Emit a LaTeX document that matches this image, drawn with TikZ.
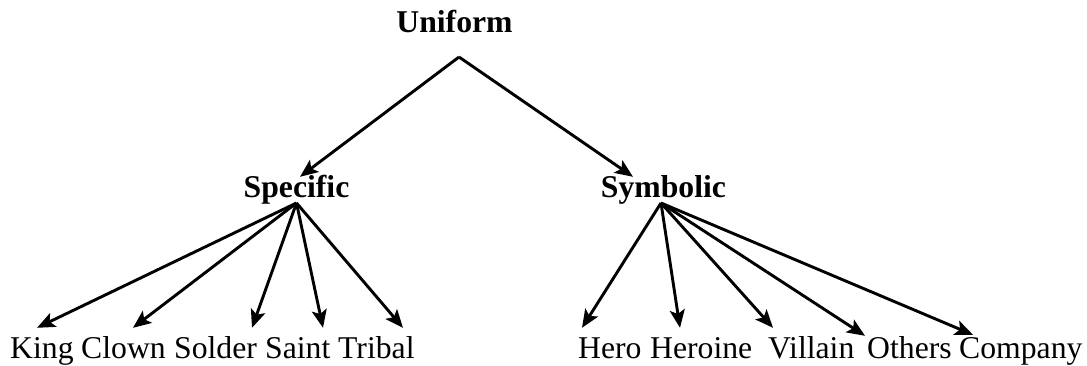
\documentclass[tikz,border=0pt]{standalone}
\usepackage{fontspec}
\setmainfont{Liberation Serif}
\usetikzlibrary{arrows.meta}

\begin{document}
\begin{tikzpicture}[
			x=1pt, y=-1pt,
			every node/.style={font=\fontsize{31.7}{38}\selectfont, inner sep=0pt},
			head/.style={anchor=base, text height=21pt, font=\fontsize{31.7}{38}\selectfont\bfseries},
			leaf/.style={anchor=base west, text height=30pt},
			arr/.style={-{Stealth[length=18pt,width=15pt,inset=4pt]}, line width=2.9pt}
			]
			\useasboundingbox (0,0) rectangle (1087,366);
			
			\node[head] (uniform) at (454.5,33) {Uniform};
			\node[head] (spec) at (296.5,198) {Specific};
			\node[head] (symb) at (663.5,198) {Symbolic};
			
			\node[leaf] (king) at (10,358) {King};
			\node[leaf] (clown) at (81,358) {Clown};
			\node[leaf] (solder) at (174,358) {Solder};
			\node[leaf] (saint) at (265,358) {Saint};
			\node[leaf] (tribal) at (338,358) {Tribal};
			\node[leaf] (hero) at (578,358) {Hero};
			\node[leaf] (heroine) at (650,358) {Heroine};
			\node[leaf] (villain) at (768,358) {Villain};
			\node[leaf] (others) at (867,358) {Others};
			\node[leaf] (company) at (959,358) {Company};
			
			\coordinate (top) at ([xshift=4.5pt,yshift=-24pt]uniform.base);
			\coordinate (specfan) at ([yshift=-5pt]spec.base);
			\coordinate (symbfan) at ([xshift=-2.5pt,yshift=-5pt]symb.base);
			
			\draw[arr] (top) -- ([xshift=3.5pt]spec.north);
			\draw[arr] (top) -- ([xshift=-30.5pt]symb.north);
			
			\draw[arr] (specfan) -- ([xshift=27pt]king.north west);
			\draw[arr] (specfan) -- ([xshift=52pt]clown.north west);
			\draw[arr] (specfan) -- ([xshift=78pt]solder.north west);
			\draw[arr] (specfan) -- ([xshift=58pt]saint.north west);
			\draw[arr] (specfan) -- ([xshift=65pt]tribal.north west);
			
			\draw[arr] (symbfan) -- ([xshift=4pt]hero.north west);
			\draw[arr] (symbfan) -- ([xshift=30pt]heroine.north west);
			\draw[arr] (symbfan) -- ([xshift=5pt]villain.north west);
			\draw[arr] (symbfan) -- ([xshift=-2pt,yshift=-8pt]others.north west);
			\draw[arr] (symbfan) -- ([xshift=14pt,yshift=-7pt]company.north west);
		\end{tikzpicture}
\end{document}
